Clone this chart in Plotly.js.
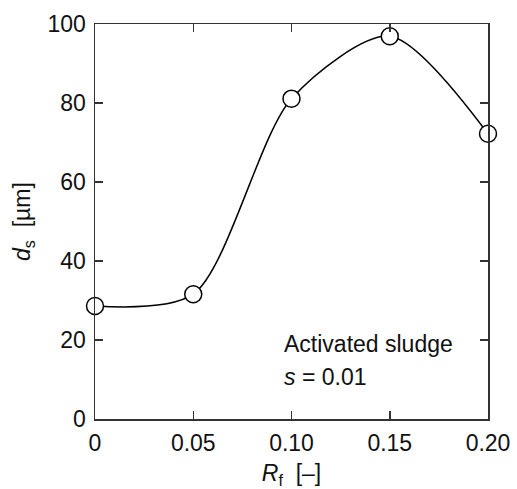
<!DOCTYPE html>
<html>
<head>
<meta charset="utf-8">
<script src="https://cdn.plot.ly/plotly-3.0.1.min.js"></script>
<style>html,body{margin:0;padding:0;background:#fff;}#chart{width:517px;height:489px;}</style>
</head>
<body>
<div id="chart"></div>
<script>
const rf = [0, 0.05, 0.10, 0.15, 0.20];
const ds = [28.6, 31.6, 81.1, 96.9, 72.2];
const xTickVals = [0, 0.05, 0.10, 0.15, 0.20];
const xTickText = ["0", "0.05", "0.10", "0.15", "0.20"];
const yTickVals = [0, 20, 40, 60, 80, 100];
const yTickText = ["0", "20", "40", "60", "80", "100"];
const noteLines = ["Activated sludge", "<i>s</i> = 0.01"];

const font = "Liberation Sans, Arial, Helvetica, sans-serif";
const axisCommon = {
  showgrid: false, zeroline: false, showline: true, linecolor: "#333", linewidth: 1.5,
  mirror: "ticks", ticks: "inside", ticklen: 8, tickwidth: 1.5, tickcolor: "#333",
  tickfont: {family: font, size: 23, color: "#111"}, tickmode: "array", ticklabelstandoff: 3
};

const trace = {
  x: rf, y: ds, type: "scatter", mode: "lines+markers",
  line: {shape: "spline", smoothing: 0.8, color: "#000", width: 1.5},
  marker: {symbol: "circle", size: 17, color: "#fff", line: {color: "#000", width: 1.5}},
  cliponaxis: false, hoverinfo: "skip"
};

const layout = {
  width: 517, height: 489,
  margin: {l: 95, r: 29, t: 24, b: 70},
  paper_bgcolor: "#fff", plot_bgcolor: "#fff",
  showlegend: false,
  xaxis: Object.assign({}, axisCommon, {
    range: [0, 0.2], tickvals: xTickVals, ticktext: xTickText,
    title: {text: "<i>R</i><sub>f</sub>  [–]", font: {family: font, size: 23, color: "#111"}, standoff: 10}
  }),
  yaxis: Object.assign({}, axisCommon, {
    range: [0, 100], tickvals: yTickVals, ticktext: yTickText,
    title: {text: "<i>d</i><sub>s</sub>  [µm]", font: {family: font, size: 23, color: "#111"}, standoff: 10}
  }),
  annotations: [
    {x: 0.0952, y: 19.0, xref: "x", yref: "y", xanchor: "left", yanchor: "middle", align: "left",
     text: noteLines[0], showarrow: false, font: {family: font, size: 23, color: "#111"}},
    {x: 0.0952, y: 10.6, xref: "x", yref: "y", xanchor: "left", yanchor: "middle", align: "left",
     text: noteLines[1], showarrow: false, font: {family: font, size: 23, color: "#111"}}
  ]
};

Plotly.newPlot("chart", [trace], layout, {staticPlot: true, displayModeBar: false});
</script>
</body>
</html>
